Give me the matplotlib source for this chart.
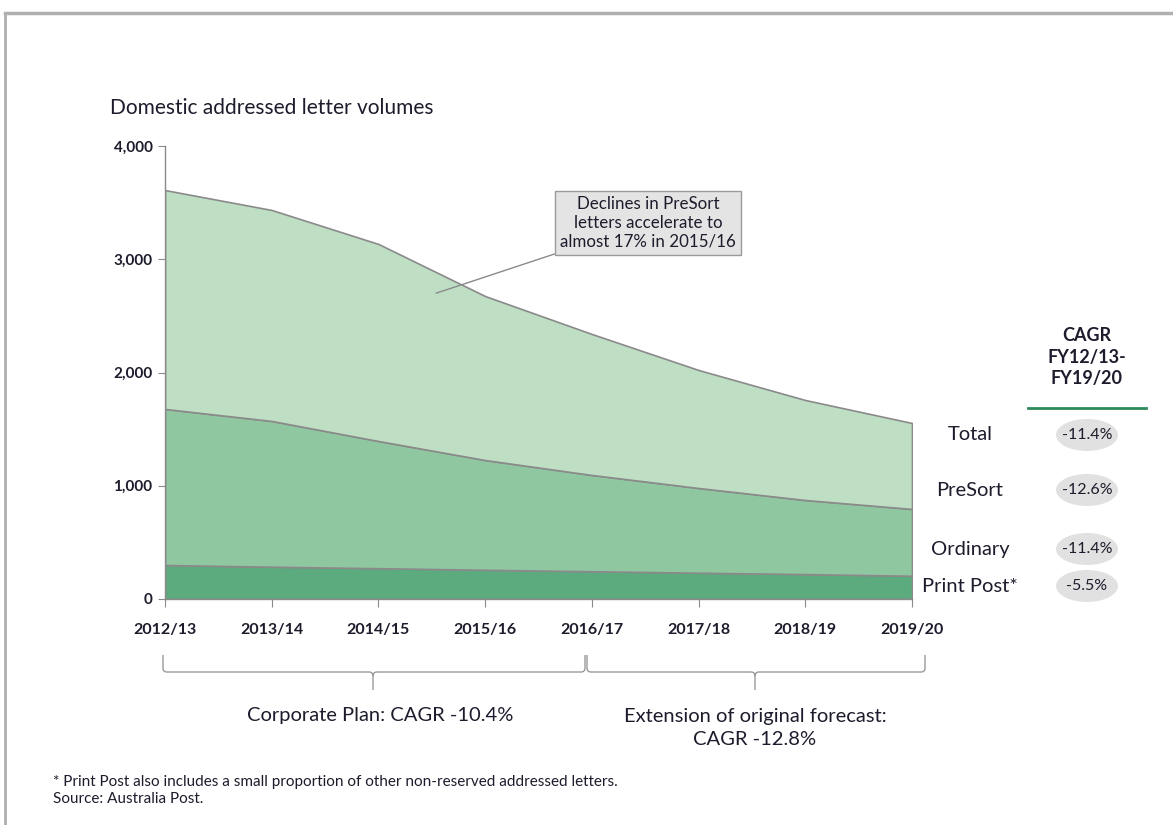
import matplotlib
matplotlib.use("Agg")
import matplotlib.pyplot as plt
from matplotlib.lines import Line2D
from matplotlib.patches import Ellipse, PathPatch
from matplotlib.path import Path
import matplotlib.transforms as mtransforms
import numpy as np

plt.rcParams['font.family'] = ['Lato', 'DejaVu Sans']

# data (millions of letters)
years = ['2012/13', '2013/14', '2014/15', '2015/16', '2016/17', '2017/18', '2018/19', '2019/20']
print_post = [300, 285, 272, 258, 245, 232, 220, 205]
ordinary = [1378, 1287, 1123, 969, 850, 748, 654, 590]
presort = [1933, 1863, 1740, 1448, 1245, 1042, 883, 759]

series_names = ['Total', 'PreSort', 'Ordinary', 'Print Post*']
cagr_labels = ['-11.4%', '-12.6%', '-11.4%', '-5.5%']
yticks = [0, 1000, 2000, 3000, 4000]

W, H = 1173, 825
TXT = '#1c1c2c'
GREY = '#8a8a8a'


def px(x, y):
    """pixel position (from top-left) -> figure fraction"""
    return x / W, 1 - y / H


fig = plt.figure(figsize=(W / 100, H / 100), dpi=100)
ax = fig.add_axes([165 / W, 1 - 599 / H, (912 - 165) / W, (599 - 146) / H])

x = np.arange(len(years))
ax.stackplot(x, print_post, ordinary, presort,
             colors=['#5bab7e', '#8fc7a0', '#bedfc4'],
             edgecolor=GREY, linewidth=1.2)

ax.set_xlim(0, len(years) - 1)
ax.set_ylim(0, 4000)
ax.set_yticks(yticks)
ax.set_yticklabels([f'{v:,}' for v in yticks])
ax.set_xticks(x)
ax.set_xticklabels(years)
for s in ['top', 'right']:
    ax.spines[s].set_visible(False)
for s in ['left', 'bottom']:
    ax.spines[s].set_color(GREY)
    ax.spines[s].set_linewidth(1.0)
ax.tick_params(axis='y', length=5, color=GREY, pad=4, labelsize=11, labelcolor=TXT)
ax.tick_params(axis='x', length=6, color=GREY, pad=11, labelsize=11.5, labelcolor=TXT)
for lab in ax.get_xticklabels() + ax.get_yticklabels():
    lab.set_fontweight('bold')

# title
fig.text(*px(110, 108), 'Domestic addressed letter volumes', fontsize=15,
         color=TXT, va='center', ha='left')

# callout
ax.annotate('Declines in PreSort\nletters accelerate to\nalmost 17% in 2015/16',
            xy=(2.54, 2700), xytext=(648, H - 223), textcoords='figure pixels',
            ha='center', va='center', fontsize=12.2, color=TXT, linespacing=1.2,
            bbox=dict(boxstyle='square,pad=0.3', facecolor='#e4e4e4', edgecolor='#9a9a9a', lw=1),
            arrowprops=dict(arrowstyle='-', color=GREY, lw=1, shrinkA=0, shrinkB=0))

# CAGR table on the right
fig.text(*px(1087, 357), 'CAGR\nFY12/13-\nFY19/20', ha='center', va='center',
         fontsize=13, fontweight='bold', color=TXT, linespacing=1.35)
fig.add_artist(Line2D([1028 / W, 1146 / W], [1 - 408 / H] * 2, color='#2e8a5c', lw=2))
row_y = [435, 490, 549, 586]
for name, lab, yy in zip(series_names, cagr_labels, row_y):
    fig.text(*px(970, yy), name, ha='center', va='center', fontsize=14.5, color=TXT)
    fig.add_artist(Ellipse(px(1087, yy), 62 / W, 32 / H, transform=fig.transFigure,
                           facecolor='#e1e1e1', edgecolor='none'))
    fig.text(*px(1087, yy), lab, ha='center', va='center', fontsize=11.5, color=TXT)

# braces under the x axis
trans = mtransforms.blended_transform_factory(ax.transData, ax.transAxes)
ppx = (912 - 165) / (len(years) - 1)


def brace(x0, x1, xm):
    a0, a1, am = [(v - 165) / ppx for v in (x0, x1, xm)]
    yt, yh, yb = [(599 - v) / 453 for v in (655, 672, 690)]
    r = 4 / ppx
    ry = 4 / 453
    verts = [(a0, yt), (a0, yh + ry), (a0, yh), (a0 + r, yh),
             (am - r, yh), (am, yh), (am, yh - ry), (am, yb),
             (am, yh - ry), (am, yh), (am + r, yh),
             (a1 - r, yh), (a1, yh), (a1, yh + ry), (a1, yt)]
    codes = [Path.MOVETO, Path.LINETO, Path.CURVE3, Path.CURVE3,
             Path.LINETO, Path.CURVE3, Path.CURVE3, Path.LINETO,
             Path.MOVETO, Path.CURVE3, Path.CURVE3,
             Path.LINETO, Path.CURVE3, Path.CURVE3, Path.LINETO]
    ax.add_patch(PathPatch(Path(verts, codes), transform=trans, fill=False,
                           edgecolor='#9a9a9a', lw=1, clip_on=False))


brace(163, 585, 373)
brace(587, 925, 755)

fig.text(*px(380, 716), 'Corporate Plan: CAGR -10.4%', ha='center', va='center',
         fontsize=14.5, color=TXT)
fig.text(*px(755, 728), 'Extension of original forecast:\nCAGR -12.8%', ha='center',
         va='center', fontsize=14.5, color=TXT, linespacing=1.45)

# footnotes
fig.text(*px(53, 782), '* Print Post also includes a small proportion of other non-reserved addressed letters.',
         ha='left', va='center', fontsize=11, color=TXT)
fig.text(*px(53, 799), 'Source: Australia Post.', ha='left', va='center', fontsize=11, color=TXT)

# outer frame
fig.add_artist(Line2D([5 / W, 1], [1 - 13 / H] * 2, color='#b0b0b0', lw=2.5))
fig.add_artist(Line2D([5 / W] * 2, [0, 1 - 13 / H], color='#b0b0b0', lw=2))

fig.savefig('out.png', dpi=100)
